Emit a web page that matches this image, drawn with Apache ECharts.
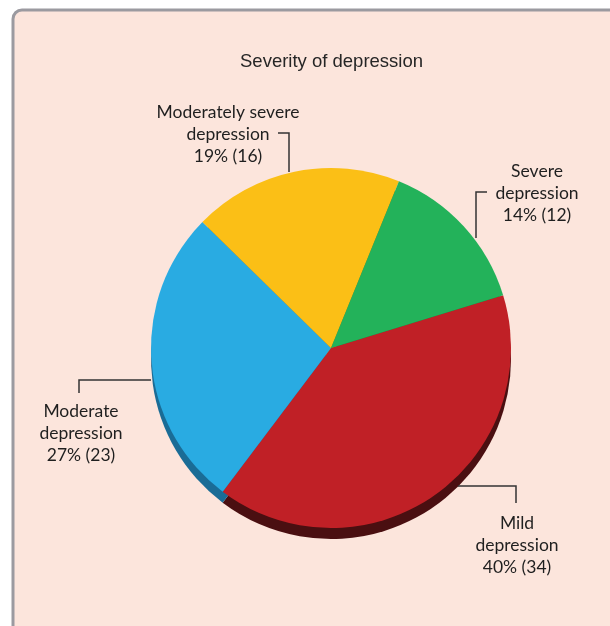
<!DOCTYPE html>
<html>
<head>
<meta charset="utf-8">
<script src="https://cdn.jsdelivr.net/npm/echarts@6/dist/echarts.min.js"></script>
<style>
  html, body { margin: 0; padding: 0; background: #ffffff; }
  #chart { width: 610px; height: 626px; }
</style>
</head>
<body>
<div id="chart"></div>
<script>
// Severity of depression — counts per category
const categories = ['Mild depression', 'Moderate depression', 'Moderately severe depression', 'Severe depression'];
const labelNames = ['Mild\ndepression', 'Moderate\ndepression', 'Moderately severe\ndepression', 'Severe\ndepression'];
const counts = [34, 23, 16, 12];

const topColors = ['#c02026', '#29abe2', '#fbbf16', '#23b25a'];
const sideColors = ['#4a0f11', '#1a6c96', '#a77d0c', '#167a3c'];

// Label boxes and elbow leader lines for each slice
const labelPlacement = [
  { x: 517, y: 512, line: [[458, 486], [516, 486], [516, 503]] },
  { x: 81,  y: 400, line: [[151, 380], [79, 380], [79, 393]] },
  { x: 228, y: 101, line: [[289, 172], [289, 133], [278, 133]] },
  { x: 537, y: 160, line: [[476, 238], [476, 192], [487, 192]] }
];

const total = counts.reduce((a, b) => a + b, 0);
const center = [331, 348];
const radius = 180;

const chart = echarts.init(document.getElementById('chart'), null, { renderer: 'canvas' });

chart.setOption({
  backgroundColor: '#ffffff',
  animation: false,
  graphic: [{
    type: 'rect',
    z: -10,
    silent: true,
    shape: { x: 13, y: 10, width: 630, height: 650, r: 9 },
    style: { fill: '#fce5dc', stroke: '#9b9aa0', lineWidth: 3 }
  }],
  title: {
    text: 'Severity of depression',
    left: 235,
    top: 47,
    textStyle: {
      fontFamily: 'Liberation Sans, Arial, sans-serif',
      fontSize: 18.5,
      fontWeight: 'normal',
      color: '#262626'
    }
  },
  series: [
    {
      // darker copy, shifted down, gives the pie its side wall
      type: 'pie',
      silent: true,
      z: 1,
      center: [center[0], center[1] + 11],
      radius: radius,
      startAngle: 17,
      clockwise: true,
      label: { show: false },
      labelLine: { show: false },
      data: counts.map((v, i) => ({
        value: v,
        name: categories[i],
        itemStyle: { color: sideColors[i] }
      }))
    },
    {
      type: 'pie',
      z: 2,
      center: center,
      radius: radius,
      startAngle: 17,
      clockwise: true,
      itemStyle: { borderWidth: 0 },
      label: {
        show: true,
        formatter: (p) => labelNames[p.dataIndex] + '\n' + Math.round(p.value / total * 100) + '% (' + p.value + ')',
        fontFamily: 'Lato, "Open Sans", sans-serif',
        fontSize: 17.5,
        lineHeight: 22,
        color: '#1f1f1f',
        align: 'center'
      },
      labelLine: {
        show: true,
        length: 20,
        length2: 10,
        lineStyle: { color: '#333333', width: 1.5 }
      },
      labelLayout: (params) => {
        const p = labelPlacement[params.dataIndex];
        return {
          x: p.x,
          y: p.y,
          align: 'center',
          verticalAlign: 'top',
          labelLinePoints: p.line
        };
      },
      data: counts.map((v, i) => ({
        value: v,
        name: categories[i],
        itemStyle: { color: topColors[i] }
      }))
    }
  ]
});
</script>
</body>
</html>
